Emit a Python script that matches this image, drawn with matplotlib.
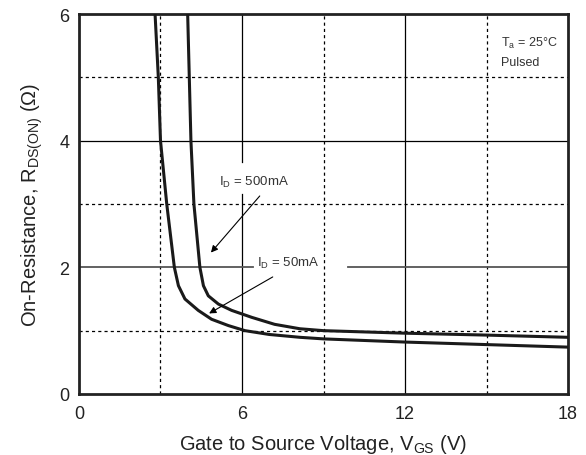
import matplotlib
matplotlib.use('Agg')
import matplotlib.pyplot as plt

# curve data
vgs_50 = [2.80, 2.92, 3.0, 3.23, 3.51, 3.66, 3.90, 4.39, 4.88, 5.50, 6.11, 7.0, 8.13, 9, 12, 15, 18]
r_50 = [6.0, 5.0, 4.0, 3.0, 2.0, 1.71, 1.50, 1.32, 1.18, 1.08, 1.0, 0.94, 0.895, 0.87, 0.82, 0.78, 0.74]

vgs_500 = [4.0, 4.06, 4.12, 4.23, 4.45, 4.58, 4.76, 5.13, 5.62, 6.36, 7.2, 8.13, 9, 12, 15, 18]
r_500 = [6.0, 5.0, 4.0, 3.0, 2.0, 1.71, 1.55, 1.42, 1.32, 1.21, 1.10, 1.03, 1.0, 0.96, 0.93, 0.895]

x_ticks = [0, 6, 12, 18]
y_ticks = [0, 2, 4, 6]

plt.rcParams['font.family'] = ['Liberation Sans', 'DejaVu Sans']
plt.rcParams['mathtext.fontset'] = 'custom'
plt.rcParams['mathtext.rm'] = 'Liberation Sans'

fig = plt.figure(figsize=(5.86, 4.56), dpi=100)
ax = fig.add_axes([0.1348, 0.1338, 0.8345, 0.8333])
ax.set_xlim(0, 18)
ax.set_ylim(0, 6)

# grid, drawn by hand because of the gaps around the labels
dot = dict(color='black', lw=0.9, ls=(0, (2.5, 2.5)))
for xv in [3, 9, 15]:
    ax.axvline(xv, **dot, zorder=1)
for yv in [1, 3, 5]:
    ax.axhline(yv, **dot, zorder=1)
ax.axvline(6, ymin=0, ymax=0.527, color='black', lw=0.9, zorder=1)
ax.axvline(6, ymin=0.61, ymax=1, color='black', lw=0.9, zorder=1)
ax.axvline(12, color='black', lw=0.9, zorder=1)
ax.axhline(4, color='black', lw=0.9, zorder=1)
ax.axhline(2, xmin=0, xmax=0.355, color='#555555', lw=1.3, zorder=1)
ax.axhline(2, xmin=0.551, xmax=1, color='#555555', lw=1.3, zorder=1)

ax.plot(vgs_50, r_50, color='#1a1a1a', lw=2.2, zorder=3)
ax.plot(vgs_500, r_500, color='#1a1a1a', lw=2.2, zorder=3)

ax.annotate('', xy=(4.79, 2.2), xytext=(6.72, 3.16),
            arrowprops=dict(arrowstyle='-|>', color='black', lw=0.8, mutation_scale=10))
ax.annotate('', xy=(4.70, 1.25), xytext=(7.22, 1.87),
            arrowprops=dict(arrowstyle='-|>', color='black', lw=0.8, mutation_scale=10))
ax.text(6.45, 3.35, r'I$_{\mathrm{D}}$ = 500mA', fontsize=9.5, ha='center', va='center', color='#333333')
ax.text(7.7, 2.08, r'I$_{\mathrm{D}}$ = 50mA', fontsize=9.5, ha='center', va='center', color='#333333')
ax.text(15.55, 5.55, r'T$_{\mathrm{a}}$ = 25°C', fontsize=9, ha='left', va='center', color='#333333')
ax.text(15.55, 5.24, 'Pulsed', fontsize=9, ha='left', va='center', color='#333333')

ax.set_xticks(x_ticks)
ax.set_yticks(y_ticks)
ax.tick_params(length=0, labelsize=13, colors='#222222')
ax.tick_params(axis='x', pad=8)
ax.tick_params(axis='y', pad=7)
ax.set_xlabel(r'Gate to Source Voltage, V$_{\mathrm{GS}}$ (V)', fontsize=14.5, color='#222222', labelpad=7)
ax.set_ylabel(r'On-Resistance, R$_{\mathrm{DS(ON)}}$ (Ω)', fontsize=14.5, color='#222222', labelpad=10)

for s in ax.spines.values():
    s.set_linewidth(2.0)
    s.set_color('#222222')

fig.savefig('out.png', dpi=100)
